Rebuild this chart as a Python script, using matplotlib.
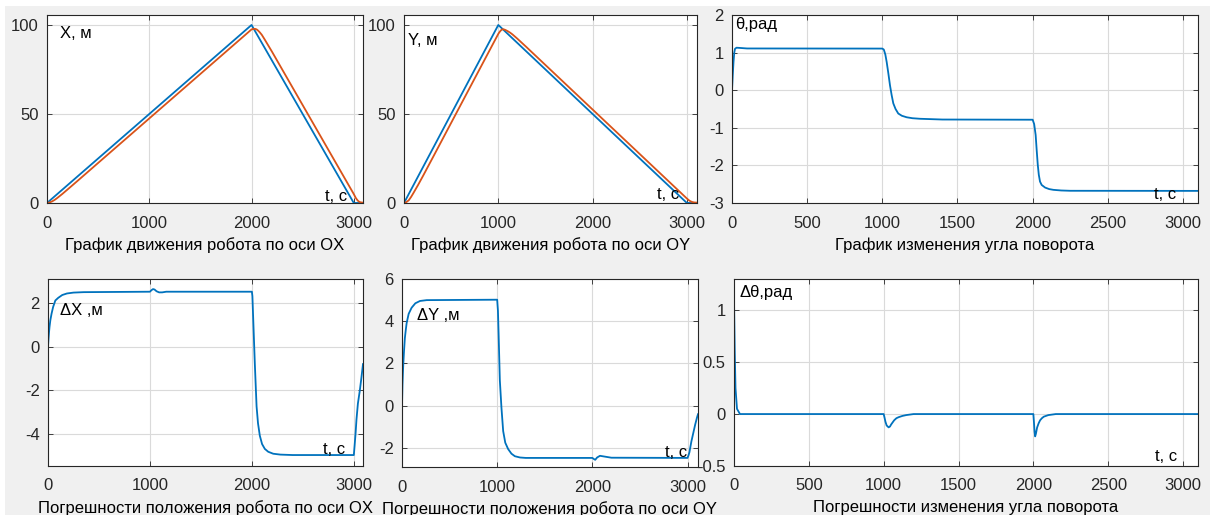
import matplotlib
matplotlib.use('Agg')
import matplotlib.pyplot as plt
from matplotlib.patches import Rectangle

plt.rcParams['font.family'] = ['Liberation Sans', 'DejaVu Sans']

BLUE = (0.0, 0.447, 0.741)
ORANGE = (0.851, 0.325, 0.098)
AXC = '#262626'

# --- X, m
x_ref_t = [0, 2000, 3000, 3090]
x_ref = [0, 100, 0, 0]
x_t = [0, 10, 25, 50, 75, 100, 150, 200, 300, 2000, 2015, 2035, 2050, 2065, 2080, 2100, 2125, 2150, 2200,
       3000, 3010, 3020, 3030, 3040, 3050, 3060, 3075, 3090]
x_val = [0, 0.05, 0.3, 0.9, 1.75, 2.8, 5.1, 7.55, 12.5, 97.5, 97.75, 97.8, 97.5, 96.8, 95.9, 94.5, 92.2, 89.8, 85.0,
         5.0, 3.9, 2.8, 2.0, 1.3, 0.8, 0.5, 0.3, 0.2]

# --- Y, m
y_ref_t = [0, 1000, 3000, 3110]
y_ref = [0, 100, 0, 0]
y_t = [0, 10, 25, 50, 75, 100, 150, 200, 300, 1000, 1010, 1020, 1030, 1045, 1060, 1075, 1100, 1125, 1150, 1200, 1300,
       3000, 3015, 3030, 3045, 3060, 3080, 3110]
y_val = [0, 0.1, 0.5, 1.5, 3.4, 5.6, 10.2, 15.05, 25.0, 95.0, 95.8, 96.5, 97.1, 97.6, 97.5, 97.2, 96.5, 95.7, 94.7, 92.4, 87.5,
         2.5, 1.8, 1.2, 0.8, 0.5, 0.3, 0.2]

# --- theta, rad
th_t = [0, 5, 10, 15, 20, 30, 50, 100, 1000, 1010, 1020, 1029, 1040, 1051, 1062, 1073, 1088, 1106, 1130, 1162, 1200,
        1251, 1400, 2000, 2010, 2020, 2027, 2034, 2041, 2049, 2060, 2083, 2110, 2138, 2190, 2250, 3100]
th_val = [0, 0.4, 0.75, 1.0, 1.1, 1.13, 1.125, 1.11, 1.107, 1.08, 0.95, 0.75, 0.45, 0.13, -0.13, -0.35, -0.5, -0.62,
          -0.68, -0.72, -0.745, -0.76, -0.78, -0.785, -0.9, -1.19, -1.6, -1.98, -2.25, -2.43, -2.52, -2.59, -2.63,
          -2.65, -2.667, -2.675, -2.678]

# --- dX, m
dx_t = [0, 5, 10, 15, 23, 35, 50, 72, 100, 140, 186, 250, 350, 1000, 1015, 1030, 1045, 1065, 1090, 1120, 1160,
        2000, 2005, 2015, 2029, 2046, 2060, 2078, 2100, 2127, 2160, 2209, 2280, 2400,
        3000, 3008, 3018, 3026, 3040, 3059, 3075, 3090]
dx_val = [0, 0.35, 0.65, 0.9, 1.2, 1.5, 1.8, 2.1, 2.22, 2.35, 2.42, 2.46, 2.48, 2.5, 2.57, 2.62, 2.6, 2.52, 2.47, 2.47, 2.5,
          2.5, 2.3, 1.0, -0.8, -2.73, -3.5, -4.07, -4.45, -4.67, -4.8, -4.89, -4.93, -4.95,
          -4.95, -4.5, -3.9, -3.33, -2.6, -2.0, -1.4, -0.8]

# --- dY, m
dy_t = [0, 5, 10, 14, 20, 30, 40, 49, 70, 101, 140, 189, 260, 1000, 1008, 1015, 1028, 1045, 1063, 1085, 1115, 1150,
        1186, 1240, 1300, 2000, 2015, 2030, 2050, 2080, 2120, 2200, 3000, 3010, 3020, 3040, 3060, 3080, 3100, 3110]
dy_val = [0, 1.0, 1.6, 2.0, 2.5, 3.2, 3.6, 3.92, 4.35, 4.64, 4.85, 4.96, 5.0, 5.02, 4.5, 3.4, 1.2, -0.1, -1.2, -1.75,
          -2.05, -2.27, -2.39, -2.45, -2.47, -2.47, -2.52, -2.56, -2.45, -2.37, -2.4, -2.46, -2.47, -2.35, -2.2, -1.7,
          -1.3, -0.9, -0.55, -0.4]

# --- dtheta, rad
dth_t = [0, 5, 10, 20, 40, 1000, 1005, 1012, 1020, 1033, 1042, 1050, 1060, 1070, 1085, 1100, 1125, 1150, 1200,
         2000, 2004, 2008, 2012, 2017, 2025, 2035, 2045, 2057, 2070, 2100, 2150, 3100]
dth_val = [1.1, 0.6, 0.25, 0.05, 0.0, 0.0, -0.03, -0.075, -0.11, -0.128, -0.12, -0.1, -0.08, -0.06, -0.04, -0.03,
           -0.018, -0.01, 0.0, 0.0, -0.08, -0.17, -0.215, -0.19, -0.13, -0.09, -0.06, -0.04, -0.025, -0.01, 0.0, 0.0]

W, H = 1214, 515
fig = plt.figure(figsize=(W / 100, H / 100), dpi=100, facecolor='white')
fig.patches.append(Rectangle((5 / W, 0), 1205 / W, 509 / H, transform=fig.transFigure,
                             facecolor='#f0f0f0', edgecolor='none', zorder=-10))


def make_axes(l, r, t, b):
	ax = fig.add_axes([l / W, 1 - b / H, (r - l) / W, (b - t) / H])
	ax.set_facecolor('white')
	ax.grid(True, color='#dadada', linewidth=0.8)
	ax.set_axisbelow(True)
	for s in ax.spines.values():
		s.set_color(AXC)
		s.set_linewidth(0.8)
	ax.tick_params(direction='in', length=3.5, width=0.6, colors=AXC, labelsize=12,
				   top=True, right=True)
	ax.tick_params(axis='x', pad=9)
	ax.tick_params(axis='y', pad=6)
	return ax


def finish(ax, xlabel, ylabel, ylab_pos, tlab_pos):
	ax.set_xlabel(xlabel, fontsize=12, color='black', labelpad=5)
	ax.text(ylab_pos[0], ylab_pos[1], ylabel, fontsize=12, va='center', ha='left')
	ax.text(tlab_pos[0], tlab_pos[1], 't, с', fontsize=12, va='center', ha='left')


ax1 = make_axes(47, 363, 15, 203)
ax1.plot(x_ref_t, x_ref, color=BLUE, lw=1.3)
ax1.plot(x_t, x_val, color=ORANGE, lw=1.3)
ax1.set_xlim(0, 3090)
ax1.set_ylim(0, 105.6)
ax1.set_xticks([0, 1000, 2000, 3000])
ax1.set_yticks([0, 50, 100])
finish(ax1, 'График движения робота по оси OX', 'X, м', (125, 95), (2715, 3.5))

ax2 = make_axes(404, 697, 15, 203)
ax2.plot(y_ref_t, y_ref, color=BLUE, lw=1.3)
ax2.plot(y_t, y_val, color=ORANGE, lw=1.3)
ax2.set_xlim(0, 3107)
ax2.set_ylim(0, 105.6)
ax2.set_xticks([0, 1000, 2000, 3000])
ax2.set_yticks([0, 50, 100])
finish(ax2, 'График движения робота по оси OY', 'Y, м', (42, 91), (2680, 5))

ax3 = make_axes(732, 1198, 15, 203)
ax3.plot(th_t, th_val, color=BLUE, lw=1.3)
ax3.set_xlim(0, 3100)
ax3.set_ylim(-3, 2)
ax3.set_xticks([0, 500, 1000, 1500, 2000, 2500, 3000])
ax3.set_yticks([-3, -2, -1, 0, 1, 2])
finish(ax3, 'График изменения угла поворота', 'θ,рад', (20, 1.74), (2810, -2.77))

ax4 = make_axes(48, 363, 279, 466)
ax4.plot(dx_t, dx_val, color=BLUE, lw=1.3)
ax4.set_xlim(0, 3090)
ax4.set_ylim(-5.45, 3.08)
ax4.set_xticks([0, 1000, 2000, 3000])
ax4.set_yticks([-4, -2, 0, 2])
finish(ax4, 'Погрешности положения робота по оси OX', 'ΔX ,м', (118, 1.64), (2696, -4.72))

ax5 = make_axes(402, 698, 279, 467)
ax5.plot(dy_t, dy_val, color=BLUE, lw=1.3)
ax5.set_xlim(0, 3110)
ax5.set_ylim(-2.9, 6)
ax5.set_xticks([0, 1000, 2000, 3000])
ax5.set_yticks([-2, 0, 2, 4, 6])
finish(ax5, 'Погрешности положения робота по оси OY', 'ΔY ,м', (157, 4.25), (2760, -2.2))

ax6 = make_axes(734, 1198, 279, 466)
ax6.plot(dth_t, dth_val, color=BLUE, lw=1.3)
ax6.set_xlim(0, 3100)
ax6.set_ylim(-0.5, 1.3)
ax6.set_xticks([0, 500, 1000, 1500, 2000, 2500, 3000])
ax6.set_yticks([-0.5, 0, 0.5, 1])

for ax in [ax1, ax2, ax3, ax4, ax5, ax6]:
	ax.set_yticklabels(['%g' % v for v in ax.get_yticks()])

finish(ax6, 'Погрешности изменения угла поворота', 'Δθ,рад', (35, 1.17), (2810, -0.41))

fig.savefig('out.png', dpi=100, facecolor=fig.get_facecolor())
